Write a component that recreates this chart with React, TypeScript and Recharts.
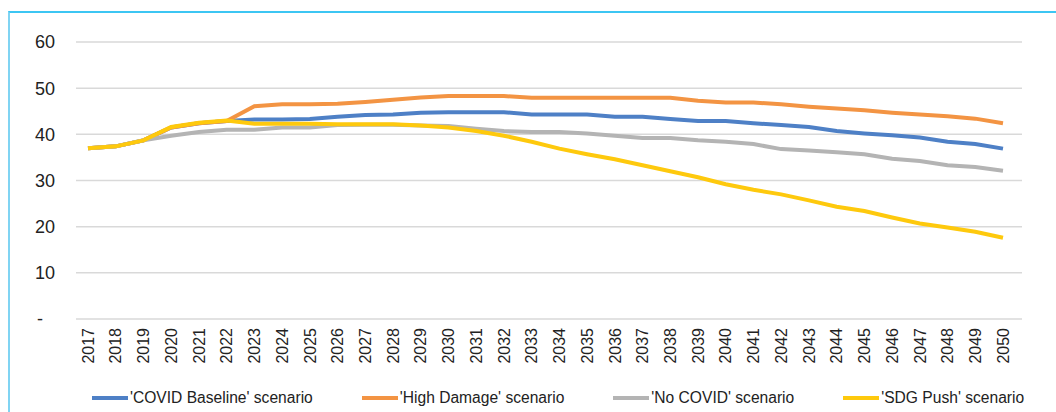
import React from 'react';
import { LineChart, Line, XAxis, YAxis, CartesianGrid, Legend } from 'recharts';

const years = [
  '2017', '2018', '2019', '2020', '2021', '2022', '2023', '2024', '2025', '2026', '2027', '2028',
  '2029', '2030', '2031', '2032', '2033', '2034', '2035', '2036', '2037', '2038', '2039', '2040',
  '2041', '2042', '2043', '2044', '2045', '2046', '2047', '2048', '2049', '2050',
];

const covidBaseline = [
  37.0, 37.4, 38.7, 41.5, 42.4, 42.9, 43.2, 43.2, 43.3, 43.8, 44.2, 44.3,
  44.7, 44.8, 44.8, 44.8, 44.3, 44.3, 44.3, 43.8, 43.8, 43.3, 42.9, 42.9,
  42.4, 42.0, 41.6, 40.7, 40.2, 39.8, 39.3, 38.4, 37.9, 36.9,
];

const highDamage = [
  37.0, 37.4, 38.7, 41.5, 42.4, 42.9, 46.1, 46.5, 46.5, 46.6, 47.0, 47.5,
  48.0, 48.3, 48.3, 48.3, 47.9, 47.9, 47.9, 47.9, 47.9, 47.9, 47.3, 46.9,
  46.9, 46.5, 46.0, 45.6, 45.2, 44.7, 44.3, 43.9, 43.4, 42.4,
];

const noCovid = [
  37.0, 37.4, 38.7, 39.7, 40.5, 41.0, 41.0, 41.5, 41.5, 42.0, 42.1, 42.1,
  41.9, 41.8, 41.2, 40.7, 40.5, 40.5, 40.2, 39.7, 39.2, 39.2, 38.7, 38.4,
  37.9, 36.8, 36.5, 36.1, 35.7, 34.7, 34.2, 33.3, 32.9, 32.1,
];

const sdgPush = [
  37.0, 37.4, 38.7, 41.6, 42.5, 43.0, 42.3, 42.3, 42.3, 42.2, 42.2, 42.2,
  41.9, 41.5, 40.7, 39.7, 38.4, 36.9, 35.7, 34.6, 33.3, 32.0, 30.7, 29.2,
  28.0, 27.0, 25.7, 24.3, 23.4, 22.0, 20.7, 19.8, 18.9, 17.6,
];

const yTicks = [0, 10, 20, 30, 40, 50, 60];

const data = years.map((year, i) => ({
  year,
  baseline: covidBaseline[i],
  high: highDamage[i],
  nocovid: noCovid[i],
  sdg: sdgPush[i],
}));

const FONT = "'Liberation Sans', Arial, sans-serif";

const YTick = (props: any) => {
  const { x, y, payload } = props;
  const zero = payload.value === 0;
  return (
    <text x={zero ? x - 12 : x} y={y} dy="0.36em" textAnchor="end" fontSize={18} fill="#222" fontFamily={FONT}>
      {zero ? '-' : payload.value}
    </text>
  );
};

const XTick = (props: any) => {
  const { x, y, payload } = props;
  return (
    <text
      x={x}
      y={y}
      dy="0.36em"
      textAnchor="end"
      transform={`rotate(-90, ${x}, ${y})`}
      fontSize={16}
      fill="#222"
      fontFamily={FONT}
    >
      {payload.value}
    </text>
  );
};

const renderLegend = (props: any) => {
  const { payload } = props;
  return (
    <div style={{ display: 'flex', height: 43, paddingTop: 20, paddingLeft: 92, boxSizing: 'border-box', fontFamily: FONT }}>
      {payload.map((entry: any) => (
        <div key={entry.value} style={{ display: 'flex', alignItems: 'center', marginRight: 49, height: 18 }}>
          <span style={{ display: 'inline-block', width: 36, height: 4, background: entry.color, marginRight: 2 }} />
          <span style={{ fontSize: 15.6, color: '#222', whiteSpace: 'nowrap' }}>{entry.value}</span>
        </div>
      ))}
    </div>
  );
};

export default function App() {
  return (
    <div style={{ position: 'absolute', left: 0, top: 0, width: 1056, height: 412, background: '#fff', overflow: 'hidden' }}>
      <div
        style={{
          position: 'absolute',
          left: 8,
          top: 11,
          right: -4,
          bottom: -10,
          borderTop: '2px solid #3cc6f3',
          borderLeft: '2px solid #80d4f3',
        }}
      />
      <LineChart width={1056} height={412} data={data} margin={{ top: 42, right: 34, left: 0, bottom: 0 }}>
        <CartesianGrid horizontal vertical={false} stroke="#d9d9d9" strokeWidth={1.5} />
        <XAxis
          dataKey="year"
          interval={0}
          height={50}
          axisLine={false}
          tickLine={false}
          tickSize={0}
          tickMargin={9}
          padding={{ left: 12, right: 19 }}
          tick={<XTick />}
        />
        <YAxis
          domain={[0, 60]}
          ticks={yTicks}
          width={76}
          axisLine={false}
          tickLine={false}
          tickSize={0}
          tickMargin={21}
          tick={<YTick />}
        />
        <Legend verticalAlign="bottom" wrapperStyle={{ left: 0, width: 1056, bottom: 0 }} content={renderLegend} />
        <Line type="linear" dataKey="baseline" name="'COVID Baseline' scenario" stroke="#4e80c6" strokeWidth={4} dot={false} isAnimationActive={false} />
        <Line type="linear" dataKey="high" name="'High Damage' scenario" stroke="#f39443" strokeWidth={4} dot={false} isAnimationActive={false} />
        <Line type="linear" dataKey="nocovid" name="'No COVID' scenario" stroke="#b4b4b4" strokeWidth={4} dot={false} isAnimationActive={false} />
        <Line type="linear" dataKey="sdg" name="'SDG Push' scenario" stroke="#fec90d" strokeWidth={4} dot={false} isAnimationActive={false} />
      </LineChart>
    </div>
  );
}
